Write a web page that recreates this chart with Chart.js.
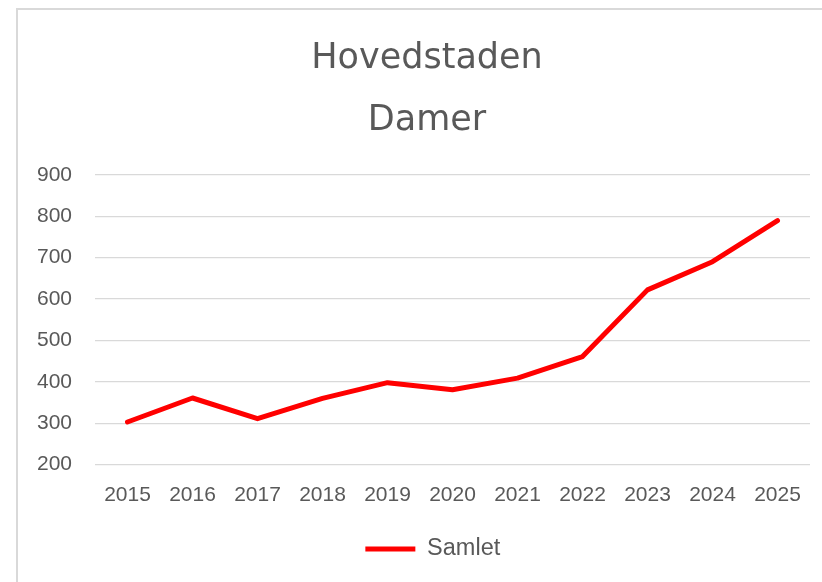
<!DOCTYPE html>
<html><head><meta charset="utf-8">
<script src="https://cdn.jsdelivr.net/npm/chart.js@4.4.1/dist/chart.umd.min.js"></script>
<style>
html,body{margin:0;padding:0;background:#fff;overflow:hidden}
#wrap{position:relative;width:822px;height:582px;overflow:hidden}
#frame{position:absolute;left:16px;top:8px;width:900px;height:700px;border-left:2px solid #d9d9d9;border-top:2px solid #d9d9d9;pointer-events:none}
canvas{position:absolute;left:0;top:0}
</style></head><body>
<div id="wrap"><canvas id="c" width="822" height="582"></canvas><div id="frame"></div></div>
<script>
const years = ['2015','2016','2017','2018','2019','2020','2021','2022','2023','2024','2025'];
const samlet = [303, 361, 311, 360, 398, 381, 409, 461, 622, 690, 789];
const yMin = 200, yMax = 900, yStep = 100;
const titleLines = ['Hovedstaden', 'Damer'];
const seriesName = 'Samlet';

const textColor = '#595959';
const axisFont = {family: "'Liberation Sans', Arial, sans-serif", size: 21};

// shift title and legend horizontally to the centre of the (wider) Excel chart frame
const centerShift = {
  id: 'centerShift',
  afterLayout(chart) {
    const t = chart.titleBlock;
    if (t) { t.left += 7; t.right += 7; }
    const l = chart.legend;
    if (l) { l.left += 12.8; l.right += 12.8; }
  }
};

new Chart(document.getElementById('c'), {
  type: 'line',
  data: {
    labels: years,
    datasets: [{
      label: seriesName,
      data: samlet,
      borderColor: '#ff0000',
      backgroundColor: '#ff0000',
      borderWidth: 5,
      pointRadius: 0,
      pointHoverRadius: 0,
      pointStyle: 'line',
      borderCapStyle: 'round',
      borderJoinStyle: 'round',
      tension: 0,
      fill: false
    }]
  },
  plugins: [centerShift],
  options: {
    responsive: false,
    animation: false,
    devicePixelRatio: 1,
    layout: {padding: {left: 30, right: 12, top: 0, bottom: 11.25}},
    plugins: {
      title: {
        display: true,
        text: titleLines,
        color: textColor,
        font: {family: "'DejaVu Sans', Inter, sans-serif", size: 35, weight: '400', lineHeight: 1.763},
        padding: {top: 28, bottom: 23.3}
      },
      legend: {
        display: true,
        position: 'bottom',
        labels: {
          usePointStyle: true,
          pointStyle: 'line',
          pointStyleWidth: 50,
          color: textColor,
          font: {family: "'Liberation Sans', Arial, sans-serif", size: 23.5},
          padding: 10
        }
      },
      tooltip: {enabled: false}
    },
    scales: {
      x: {
        offset: true,
        grid: {display: false, drawTicks: false},
        border: {display: false},
        ticks: {color: textColor, font: axisFont, padding: 18, maxRotation: 0, autoSkip: false},
        afterFit: s => { s.height = 62.55; }
      },
      y: {
        min: yMin,
        max: yMax,
        grid: {color: '#d9d9d9', lineWidth: 1.2, drawTicks: false},
        border: {display: false},
        ticks: {stepSize: yStep, color: textColor, font: axisFont, padding: 23},
        afterFit: s => { s.width = 65; }
      }
    }
  }
});
</script>
</body></html>
